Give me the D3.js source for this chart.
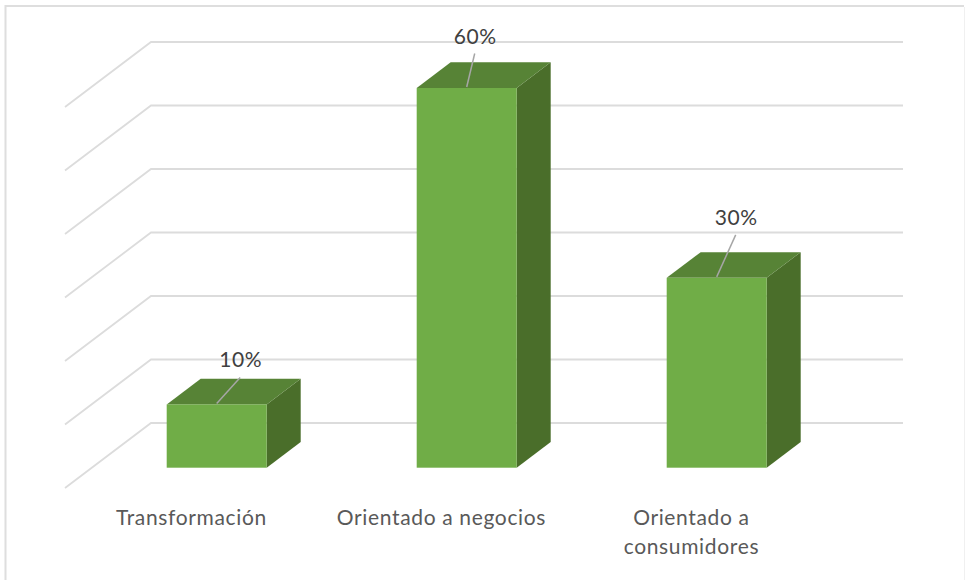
<!DOCTYPE html>
<html><head><meta charset="utf-8">
<script src="https://cdn.jsdelivr.net/npm/d3@7"></script>
<style>html,body{margin:0;padding:0;background:#fff}svg{display:block}text{font-family:Lato,"Open Sans",sans-serif}</style>
</head><body><svg id="c" width="965" height="580"></svg>
<script>
const categories = [["Transformación"],["Orientado a negocios"],["Orientado a","consumidores"]];
const seriesValues = [10,60,30];
const valueLabels = ["10%","60%","30%"];
const gridTicks = [0,10,20,30,40,50,60];
const labelShifts = [[23.5,-27],[8,-34.5],[19,-43]];

const svg = d3.select("#c");
const depthX = 34, depthY = 25.7;
const wallX = 86, wallY = -65;
const y = d3.scaleLinear().domain([0,60]).range([423,42]);
const barY = d3.scaleLinear().domain([0,60]).range([467.7,88]);
const x = d3.scaleBand().domain(d3.range(3)).range([91.7,841.7]).paddingInner(0.6).paddingOuter(0.3);

const path = d3.line();
svg.append("path").attr("d",path([[5.5,580],[5.5,6],[964,6]])).attr("fill","none").attr("stroke","#dedede").attr("stroke-width",2);
svg.append("path").attr("d",path([[964.5,7],[964.5,580]])).attr("fill","none").attr("stroke","#f0f0f0").attr("stroke-width",1);

const wallBack = 151, wallRight = 903, wallLeft = wallBack - wallX;
svg.append("g").selectAll("path").data(gridTicks).join("path")
  .attr("d", t => path([[wallLeft,y(t)-wallY],[wallBack,y(t)],[wallRight,y(t)]]))
  .attr("fill","none").attr("stroke","#dcdcdc").attr("stroke-width",1.8);

const bars = svg.append("g").selectAll("g").data(seriesValues).join("g");
const X0 = (d,i)=>x(i), X1 = (d,i)=>x(i)+x.bandwidth(), XM = (d,i)=>x(i)+x.bandwidth()/2;
const Yb = barY(0), Yt = d => barY(d);
bars.append("path").attr("fill","#4a6e2a").attr("d",(d,i)=>path([[X1(d,i),Yt(d)],[X1(d,i)+depthX,Yt(d)-depthY],[X1(d,i)+depthX,Yb-depthY],[X1(d,i),Yb]])+"Z");
bars.append("path").attr("fill","#578336").attr("d",(d,i)=>path([[X0(d,i),Yt(d)],[X0(d,i)+depthX,Yt(d)-depthY],[X1(d,i)+depthX,Yt(d)-depthY],[X1(d,i),Yt(d)]])+"Z");
bars.append("rect").attr("fill","#70ad47").attr("x",X0).attr("y",Yt).attr("width",x.bandwidth()).attr("height",d=>Yb-Yt(d));

bars.append("line").attr("stroke","#a6a6a6").attr("stroke-width",1.5)
  .attr("x1",XM).attr("y1",d=>Yt(d)-1)
  .attr("x2",(d,i)=>XM(d,i)+labelShifts[i][0]).attr("y2",(d,i)=>Yt(d)+labelShifts[i][1]);
bars.append("text").text((d,i)=>valueLabels[i]).attr("text-anchor","middle").attr("font-size",21).attr("letter-spacing",0.6).attr("fill","#404040")
  .attr("x",(d,i)=>XM(d,i)+labelShifts[i][0]+0.5).attr("y",(d,i)=>Yt(d)+labelShifts[i][1]-10);

const cats = svg.append("g").selectAll("text").data(categories).join("text")
  .attr("text-anchor","middle").attr("font-size",21).attr("letter-spacing",0.65).attr("fill","#595959")
  .attr("transform",(d,i)=>`translate(${XM(d,i)-25.3},0)`);
cats.selectAll("tspan").data(d=>d).join("tspan").attr("x",0).attr("y",(d,j)=>524.5+j*29).text(d=>d);
</script></body></html>
